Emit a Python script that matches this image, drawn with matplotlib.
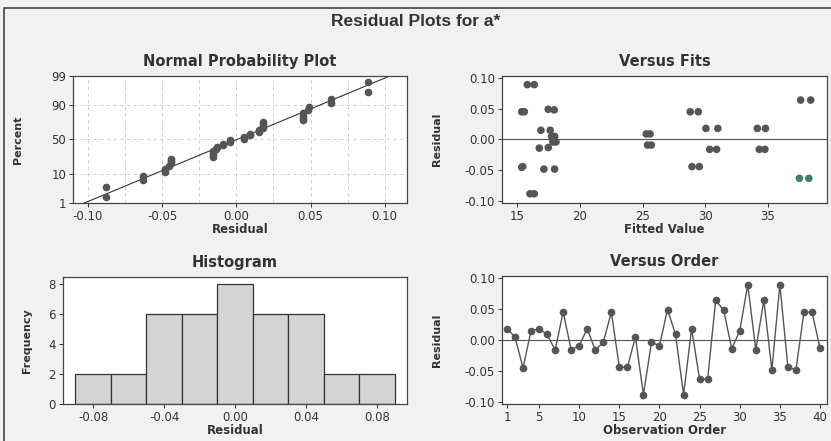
import matplotlib.pyplot as plt
import numpy as np
from statistics import NormalDist

# residuals in observation order (read from "Versus Order")
obs = np.arange(1, 41)
resid = np.array([0.018, 0.005, -0.045, 0.015, 0.018, 0.009, -0.016, 0.045, -0.016, -0.009,
                  0.018, -0.016, -0.004, 0.045, -0.044, -0.044, 0.005, -0.088, -0.004, -0.009,
                  0.049, 0.009, -0.088, 0.018, -0.063, -0.063, 0.064, 0.048, -0.014, 0.015,
                  0.089, -0.016, 0.064, -0.048, 0.089, -0.044, -0.048, 0.045, 0.045, -0.013])
# fitted values for the same observations (read from "Versus Fits")
fitted = np.array([30.05, 17.75, 15.37, 16.90, 31.00, 25.30, 30.35, 15.37, 30.90, 25.40,
                   34.15, 34.30, 17.85, 15.58, 28.94, 29.52, 18.00, 16.03, 18.10, 25.70,
                   17.48, 25.60, 16.37, 34.80, 37.50, 38.25, 37.60, 17.96, 16.77, 17.64,
                   15.82, 34.75, 38.40, 17.14, 16.37, 15.45, 17.99, 28.80, 29.44, 17.49])
hist_edges = np.arange(-0.09, 0.0901, 0.02)

W, H = 831, 441
fig = plt.figure(figsize=(W / 100, H / 100), dpi=100)
fig.patch.set_facecolor('#f1f1f1')

dark = '#555555'
tick_fs = 8.5
xlab_fs = 8.5
ylab_fs = 8
ttl_fs = 10.5


def px_axes(l, t, r, b):
    ax = fig.add_axes([l / W, 1 - b / H, (r - l) / W, (b - t) / H])
    ax.set_facecolor('white')
    for s in ax.spines.values():
        s.set_color('#444444')
        s.set_linewidth(0.9)
    ax.tick_params(labelsize=tick_fs, length=3, width=0.7, colors='#333333', pad=2)
    return ax


def labels(ax, title, xlab, ylab, ypos):
    ax.set_title(title, fontsize=ttl_fs, fontweight='bold', color='#333333', pad=7)
    ax.set_xlabel(xlab, fontsize=xlab_fs, fontweight='bold', labelpad=0, color='#333333')
    ax.set_ylabel(ylab, fontsize=ylab_fs, fontweight='bold', color='#333333')
    ax.yaxis.set_label_coords(ypos, 0.5)


# outer frame (bottom edge runs off the picture)
fig.add_artist(plt.Rectangle((4 / W, -0.1), 1, 1.1 - 8 / H, transform=fig.transFigure,
                             fill=False, edgecolor='#444444', lw=1.2))
fig.text(0.5, 1 - 22 / H, 'Residual Plots for a*', ha='center', va='center',
         fontsize=12.5, fontweight='bold', color='#333333',
         family=['Liberation Sans Narrow', 'Liberation Sans', 'DejaVu Sans'])

nd = NormalDist()
res_ticks = [-0.10, -0.05, 0.0, 0.05, 0.10]
res_labels = ['-0.10', '-0.05', '0.00', '0.05', '0.10']

# Normal probability plot
ax1 = px_axes(73, 76, 407, 203)
srt = np.sort(resid)
n = len(srt)
pp = (np.arange(1, n + 1) - 0.3) / (n + 0.4)
zz = np.array([nd.inv_cdf(p) for p in pp])
mu, sd = resid.mean(), resid.std(ddof=1)
ylo, yhi = nd.inv_cdf(0.01), nd.inv_cdf(0.99)
xl = np.array([mu + ylo * sd, mu + yhi * sd])
for gx in np.arange(-0.10, 0.101, 0.025):
    ax1.axvline(gx, color='#c8c8c8', ls=(0, (4, 4)), lw=0.6, zorder=0)
for gp in [10, 50, 90]:
    ax1.axhline(nd.inv_cdf(gp / 100), color='#c8c8c8', ls=(0, (4, 4)), lw=0.6, zorder=0)
ax1.plot(xl, [ylo, yhi], color='#333333', lw=0.8)
ax1.plot(srt, zz, 'o', color=dark, ms=4.5, mec=dark)
ax1.set_xlim(-0.11, 0.115)
ax1.set_ylim(ylo, yhi)
ax1.set_xticks(res_ticks)
ax1.set_xticklabels(res_labels)
ax1.set_yticks([nd.inv_cdf(p / 100) for p in [1, 10, 50, 90, 99]])
ax1.set_yticklabels(['1', '10', '50', '90', '99'])
labels(ax1, 'Normal Probability Plot', 'Residual', 'Percent', -0.15)

# Versus Fits
ax2 = px_axes(502, 76, 827, 203)
ax2.axhline(0, color='#555555', lw=0.8, zorder=1)
cols = np.where(resid == -0.063, '#3f7f6f', dark)
ax2.scatter(fitted, resid, s=20, c=cols, zorder=2)
ax2.set_xlim(13.8, 39.7)
ax2.set_ylim(-0.103, 0.103)
ax2.set_xticks([15, 20, 25, 30, 35])
ax2.set_yticks(res_ticks)
ax2.set_yticklabels(res_labels)
labels(ax2, 'Versus Fits', 'Fitted Value', 'Residual', -0.185)

# Histogram
ax3 = px_axes(63, 277, 407, 404)
ax3.hist(resid, bins=hist_edges, color='#d4d4d4', edgecolor='#333333', linewidth=0.9)
ax3.set_xlim(-0.097, 0.097)
ax3.set_ylim(0, 8.45)
ax3.set_xticks([-0.08, -0.04, 0.0, 0.04, 0.08])
ax3.set_xticklabels(['-0.08', '-0.04', '0.00', '0.04', '0.08'])
ax3.set_yticks([0, 2, 4, 6, 8])
labels(ax3, 'Histogram', 'Residual', 'Frequency', -0.09)

# Versus Order
ax4 = px_axes(502, 276, 827, 404)
ax4.axhline(0, color='#555555', lw=0.8, zorder=1)
ax4.plot(obs, resid, '-o', color=dark, lw=1.0, ms=4.5, zorder=2)
ax4.set_xlim(0.38, 40.87)
ax4.set_ylim(-0.103, 0.103)
ax4.set_xticks([1, 5, 10, 15, 20, 25, 30, 35, 40])
ax4.set_yticks(res_ticks)
ax4.set_yticklabels(res_labels)
labels(ax4, 'Versus Order', 'Observation Order', 'Residual', -0.185)

plt.savefig('out.png', dpi=100, facecolor=fig.get_facecolor())
